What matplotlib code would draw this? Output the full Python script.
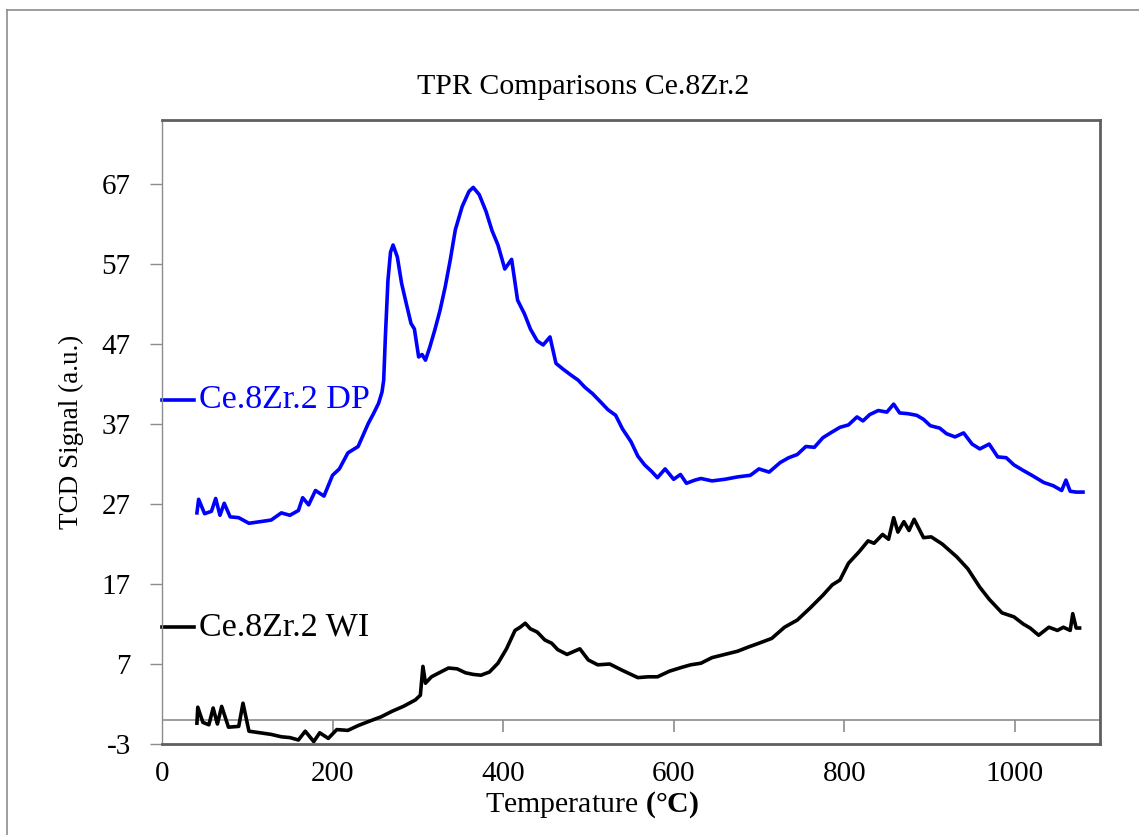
# TPR comparison of Ce.8Zr.2 catalysts (DP vs WI)

import matplotlib
matplotlib.use("Agg")
import matplotlib.pyplot as plt
from matplotlib.lines import Line2D

plt.rcParams['font.family'] = ['Liberation Serif', 'DejaVu Serif']
plt.rcParams['mathtext.fontset'] = 'custom'
plt.rcParams['mathtext.rm'] = 'Liberation Serif'
plt.rcParams['mathtext.bf'] = 'Liberation Serif:bold'
plt.rcParams['axes.unicode_minus'] = False

# Ce.8Zr.2 DP (blue), spikes included
dp_temp = [41, 43, 50, 58, 63, 68, 73, 80, 90, 102, 115, 128, 140, 150,
           160, 165, 172, 180, 190, 200, 208, 218, 230, 242, 248, 254, 258,
           260, 262, 265, 268, 271, 276, 281, 286, 292, 296, 301, 305, 309,
           314, 320, 326, 332, 338, 344, 352, 360, 365, 372, 380, 387, 394,
           402, 410, 417, 425, 432, 440, 447, 455, 462, 470, 480, 488, 496,
           505, 515, 523, 532, 540, 550, 558, 566, 574, 581, 590, 600, 608,
           615, 625, 632, 645, 660, 675, 690, 700, 712, 725, 735, 745, 755,
           765, 775, 784, 795, 805, 815, 822, 830, 840, 850, 858, 865, 875,
           885, 893, 901, 912, 920, 930, 940, 950, 959, 970, 980, 990, 999,
           1010, 1020, 1034, 1045, 1055, 1060, 1065, 1072, 1080]
dp_signal = [25.9, 27.6, 25.8, 26.1, 27.7, 25.6, 27.1, 25.4, 25.3, 24.6, 24.8,
             25.0, 25.9, 25.6, 26.2, 27.8, 26.9, 28.7, 28.0, 30.6, 31.4, 33.4,
             34.2, 37.1, 38.3, 39.6, 41.0, 42.5, 48.0, 55.0, 58.5, 59.4, 57.9,
             54.6, 52.3, 49.6, 48.9, 45.4, 45.7, 45.0, 46.6, 48.8, 51.2, 54.1,
             57.5, 61.3, 64.2, 66.1, 66.6, 65.7, 63.6, 61.2, 59.4, 56.4, 57.6,
             52.5, 50.8, 48.9, 47.4, 46.9, 47.9, 44.6, 43.9, 43.1, 42.5, 41.6,
             40.8, 39.7, 38.8, 38.1, 36.4, 34.8, 33.0, 31.9, 31.1, 30.3, 31.4,
             30.1, 30.7, 29.6, 30.0, 30.2, 29.9, 30.1, 30.4, 30.6, 31.4, 31.0,
             32.2, 32.8, 33.2, 34.2, 34.1, 35.3, 35.9, 36.6, 36.9, 37.9, 37.4,
             38.2, 38.7, 38.5, 39.5, 38.4, 38.3, 38.1, 37.6, 36.8, 36.5, 35.8,
             35.4, 35.9, 34.5, 33.9, 34.5, 32.9, 32.8, 31.9, 31.2, 30.6, 29.7,
             29.3, 28.7, 30.0, 28.6, 28.5, 28.5]

# Ce.8Zr.2 WI (black)
wi_temp = [41, 42, 48, 55, 60, 65, 70, 78, 90, 95, 102, 115, 128, 140, 150,
           160, 168, 178, 185, 195, 205, 218, 230, 242, 257, 270, 283, 297,
           303, 306, 309, 316, 325, 336, 346, 356, 365, 374, 384, 394, 404,
           414, 420, 426, 432, 440, 449, 457, 464, 475, 490, 500, 511, 525,
           540, 548, 558, 570, 581, 595, 610, 620, 632, 645, 660, 675, 687,
           700, 715, 730, 745, 760, 775, 786, 795, 805, 818, 828, 835, 845,
           852, 858, 863, 870, 876, 882, 893, 902, 915, 932, 945, 959, 970,
           985, 999, 1010, 1018, 1028, 1040, 1050, 1057, 1065, 1068, 1072,
           1076]
wi_signal = [-0.4, 1.6, -0.3, -0.6, 1.5, -0.5, 1.7, -0.9, -0.8, 2.1, -1.4,
             -1.6, -1.8, -2.1, -2.2, -2.5, -1.4, -2.7, -1.6, -2.3, -1.2, -1.3,
             -0.7, -0.2, 0.4, 1.1, 1.7, 2.5, 3.1, 6.7, 4.6, 5.4, 5.9, 6.5, 6.4,
             5.9, 5.7, 5.6, 6.0, 7.1, 8.9, 11.2, 11.6, 12.1, 11.4, 11.0, 10.0,
             9.6, 8.8, 8.2, 8.9, 7.5, 6.9, 7.0, 6.2, 5.8, 5.3, 5.4, 5.4, 6.1,
             6.6, 6.9, 7.1, 7.8, 8.2, 8.6, 9.1, 9.6, 10.2, 11.6, 12.5, 14.0,
             15.6, 16.9, 17.5, 19.6, 21.1, 22.4, 22.1, 23.2, 22.6, 25.3, 23.5,
             24.8, 23.7, 25.1, 22.8, 22.9, 22.0, 20.4, 18.9, 16.6, 15.1, 13.4,
             12.9, 12.0, 11.5, 10.6, 11.6, 11.2, 11.6, 11.2, 13.3, 11.5, 11.5]

x_ticks = [0, 200, 400, 600, 800, 1000]
y_ticks = [-3, 7, 17, 27, 37, 47, 57, 67]

dp_color = '#0000ff'
wi_color = '#000000'
axis_gray = '#8c8c8c'
frame_gray = '#5f5f5f'

fig = plt.figure(figsize=(11.39, 8.35), dpi=100)
ax = fig.add_axes([0.1422, 0.109, 0.8236, 0.747])

ax.plot(dp_temp, dp_signal, color=dp_color, lw=2.6, solid_joinstyle='round')
ax.plot(wi_temp, wi_signal, color=wi_color, lw=2.6, solid_joinstyle='round')

ax.set_xlim(0, 1100)
ax.set_ylim(-3, 75)

# zero line with its tick marks, as in the spreadsheet chart
ax.axhline(0, color=axis_gray, lw=1.2, zorder=0)
ax.vlines(x_ticks[1:], -1.5, 0, color=axis_gray, lw=1.2, zorder=0)

ax.set_xticks(x_ticks)
ax.set_yticks(y_ticks)
ax.tick_params(axis='x', length=0, pad=12, labelsize=21)
ax.tick_params(axis='y', direction='out', length=8.5, width=1,
               color=axis_gray, pad=14, labelsize=21)

ax.spines['left'].set_color(axis_gray)
ax.spines['left'].set_linewidth(1.0)
for side in ['top', 'right', 'bottom']:
    ax.spines[side].set_color(frame_gray)
    ax.spines[side].set_linewidth(2.0)

ax.set_ylabel('TCD Signal (a.u.)', fontsize=19.5, labelpad=13)
ax.set_xlabel(r'Temperature $\mathbf{(°C)}$', fontsize=21.5)
ax.xaxis.set_label_coords(0.458, -0.072)

fig.text(0.512, 0.896, 'TPR Comparisons Ce.8Zr.2', fontsize=21.5,
         ha='center', va='center')

# series labels drawn inside the plot on the left
ax.plot([0, 38], [40, 40], color=dp_color, lw=2.6, clip_on=False)
ax.text(43, 40, 'Ce.8Zr.2 DP', color=dp_color, fontsize=24.5,
        va='center', ha='left')
ax.plot([0, 38], [11.6, 11.6], color=wi_color, lw=2.6, clip_on=False)
ax.text(43, 11.6, 'Ce.8Zr.2 WI', color=wi_color, fontsize=24.5,
        va='center', ha='left')

# outer chart frame (left and top edges are visible)
fig.add_artist(Line2D([7 / 1139, 7 / 1139], [0, 1 - 10 / 835],
                      transform=fig.transFigure, color=axis_gray, lw=1.2))
fig.add_artist(Line2D([7 / 1139, 1], [1 - 10 / 835, 1 - 10 / 835],
                      transform=fig.transFigure, color=axis_gray, lw=1.2))

fig.savefig('out.png', dpi=100)
